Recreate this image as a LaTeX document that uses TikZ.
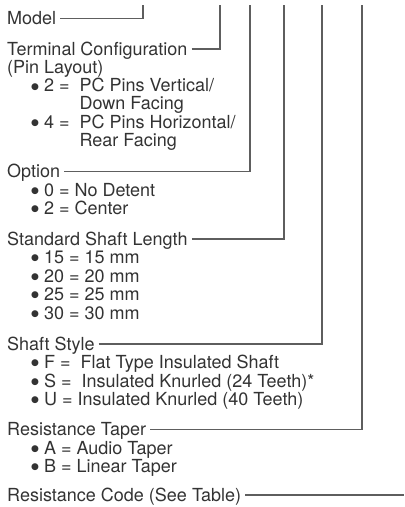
\documentclass[tikz,border=0pt]{standalone}
\usepackage{fontspec}
\setmainfont{TeX Gyre Heros}
\newfontfamily\dotfont{DejaVu Sans}
\definecolor{txtgray}{HTML}{333333}
\definecolor{linegray}{HTML}{5E5E5E}
\tikzset{
  head/.style={anchor=base west, inner xsep=4pt, inner ysep=0pt,
    text height=12.4pt, text depth=0pt, text=txtgray,
    font=\fontsize{18}{18}\selectfont},
  item/.style={anchor=base west, inner sep=0pt, text=txtgray,
    text height=12.4pt, text depth=3pt,
    font=\fontsize{18}{18}\selectfont},
  leader/.style={draw=linegray, line width=1.4pt},
}
\newcommand{\bul}{\raisebox{2.6pt}{\dotfont\fontsize{9}{9}\selectfont ●}}
\newcommand{\hang}[1]{\phantom{\bul\ #1\ \ }}
\begin{document}
\begin{tikzpicture}[x=1pt, y=-1pt]
    \useasboundingbox (0,0) rectangle (405,507);
    % tops of the leader lines
    \coordinate (c1) at (143,5);
    \coordinate (c2) at (220,5);
    \coordinate (c3) at (250,5);
    \coordinate (c4) at (284,5);
    \coordinate (c5) at (322,5);
    \coordinate (c6) at (362,5);
    \coordinate (c7) at (404,5);
    % model
    \node[head] (model) at (3,24.5) {Model};
    % terminal configuration
    \node[head] (term) at (3,55) {Terminal Configuration};
    \node[item] (pin) at (7,73.3) {(Pin Layout)};
    \node[item] (tc2) at (31,91.6) {\bul\ 2 =\ \ PC Pins Vertical/};
    \node[item] (tc2b) at (31,109.9) {\hang{2 =}Down Facing};
    \node[item] (tc4) at (31,128.2) {\bul\ 4 =\ \ PC Pins Horizontal/};
    \node[item] (tc4b) at (31,146.5) {\hang{4 =}Rear Facing};
    % option
    \node[head] (option) at (3,177.5) {Option};
    \node[item] (op0) at (31,196) {\bul\ 0 = No Detent};
    \node[item] (op2) at (31,214.3) {\bul\ 2 = Center};
    % shaft length
    \node[head] (shaftlen) at (3,245) {Standard Shaft Length};
    \node[item] (sl15) at (31,263.5) {\bul\ 15 = 15 mm};
    \node[item] (sl20) at (31,282) {\bul\ 20 = 20 mm};
    \node[item] (sl25) at (31,300.5) {\bul\ 25 = 25 mm};
    \node[item] (sl30) at (31,319) {\bul\ 30 = 30 mm};
    % shaft style
    \node[head] (shaftstyle) at (3,350) {Shaft Style};
    \node[item] (ssF) at (31,368.5) {\bul\ F =\ \ Flat Type Insulated Shaft};
    \node[item] (ssS) at (31,387) {\bul\ S =\ \ Insulated Knurled (24 Teeth)*};
    \node[item] (ssU) at (31,405.5) {\bul\ U = Insulated Knurled (40 Teeth)};
    % taper
    \node[head] (taper) at (3,435.5) {Resistance Taper};
    \node[item] (tpA) at (31,454) {\bul\ A = Audio Taper};
    \node[item] (tpB) at (31,472.5) {\bul\ B = Linear Taper};
    % resistance code
    \node[head] (rescode) at (3,501) {Resistance Code (See Table)};
    % leaders
    \draw[leader] (model.east) -| (c1);
    \draw[leader] (term.east) -| (c2);
    \draw[leader] (option.east) -| (c3);
    \draw[leader] (shaftlen.east) -| (c4);
    \draw[leader] (shaftstyle.east) -| (c5);
    \draw[leader] (taper.east) -| (c6);
    \draw[leader] (rescode.east) -- (rescode.east -| c7);
\end{tikzpicture}
\end{document}
